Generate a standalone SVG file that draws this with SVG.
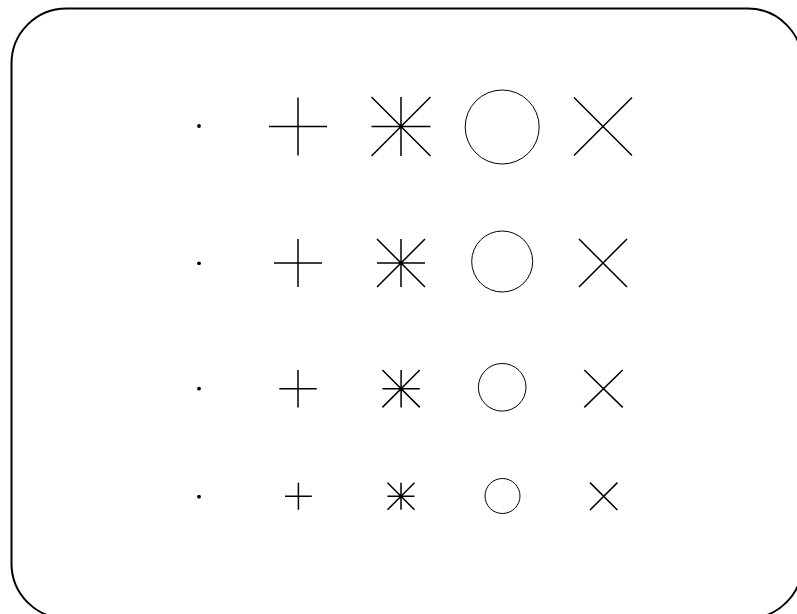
<svg xmlns="http://www.w3.org/2000/svg" width="797" height="614" viewBox="0 0 797 614">
<style>
.frame{fill:#fff;stroke:#000;stroke-width:2}
.m{fill:none;stroke:#000;stroke-width:1.5}
.c{fill:none;stroke:#000;stroke-width:1}
.d{fill:#000}
</style>
<rect width="797" height="614" fill="#fff"/>
<rect class="frame" x="11.5" y="8.5" width="791" height="610" rx="55" ry="55"/>
<g id="row1">
<g id="dot1"><circle class="d" cx="199" cy="126" r="1.9"/></g>
<g id="plus1"><path class="m" d="M269 126.5H327M298 97.5V155.5"/></g>
<g id="star1"><path class="m" d="M371.5 126.5H430.5M401 97V156M371.5 97L430.5 156M430.5 97L371.5 156"/></g>
<g id="circle1"><circle class="c" cx="502.2" cy="127" r="37"/></g>
<g id="x1"><path class="m" d="M574 97.5L632 155.5M632 97.5L574 155.5"/></g>
</g>
<g id="row2">
<g id="dot2"><circle class="d" cx="199" cy="263.3" r="1.9"/></g>
<g id="plus2"><path class="m" d="M274 263H322M298 239V287"/></g>
<g id="star2"><path class="m" d="M377 263H425M401 239V287M377 239L425 287M425 239L377 287"/></g>
<g id="circle2"><circle class="c" cx="502.2" cy="261.5" r="30.5"/></g>
<g id="x2"><path class="m" d="M579 239L627 287M627 239L579 287"/></g>
</g>
<g id="row3">
<g id="dot3"><circle class="d" cx="199" cy="388.7" r="1.9"/></g>
<g id="plus3"><path class="m" d="M279.3 388.7H316.7M298 370V407.4"/></g>
<g id="star3"><path class="m" d="M382.4 388.7H419.8M401.1 370V407.4M382.4 370L419.8 407.4M419.8 370L382.4 407.4"/></g>
<g id="circle3"><circle class="c" cx="502.2" cy="387.3" r="23.8"/></g>
<g id="x3"><path class="m" d="M584.3 370L622.7 407.4M622.7 370L584.3 407.4"/></g>
</g>
<g id="row4">
<g id="dot4"><circle class="d" cx="199" cy="496.7" r="1.9"/></g>
<g id="plus4"><path class="m" d="M285 496.3H311.8M298.4 482.8V509.8"/></g>
<g id="star4"><path class="m" d="M387.5 496.3H414.5M401 482.8V509.8M387.5 482.8L414.5 509.8M414.5 482.8L387.5 509.8"/></g>
<g id="circle4"><circle class="c" cx="502.5" cy="496" r="17.5"/></g>
<g id="x4"><path class="m" d="M590 482.6L617.4 510M617.4 482.6L590 510"/></g>
</g>
<g id="connectors"/>
</svg>
